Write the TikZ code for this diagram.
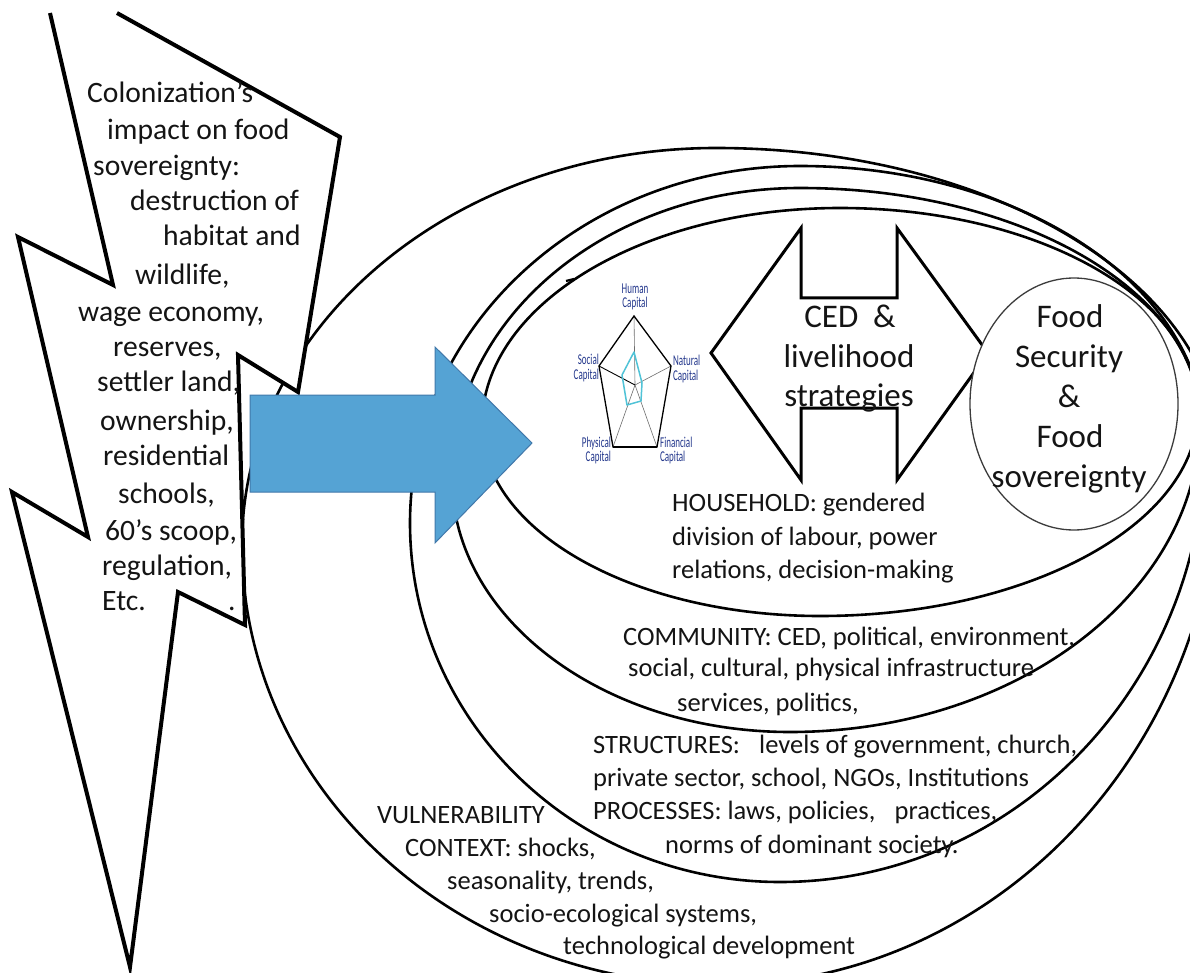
\documentclass[tikz,border=0pt]{standalone}
\usepackage{fontspec}
\setmainfont{Carlito}
\definecolor{txtcol}{RGB}{20,20,20}
\definecolor{arrowblue}{RGB}{85,163,212}
\definecolor{arrowedge}{RGB}{65,120,170}
\definecolor{navy}{RGB}{35,55,140}
\definecolor{cyanline}{RGB}{80,195,215}
\definecolor{circlecol}{RGB}{60,60,60}
\definecolor{spokecol}{RGB}{110,110,110}
% quarter-ellipse closed curve: #2,#3 left; #4,#5 top; #6,#7 right; #8,#9 bottom
\newcommand{\qell}[9][]{%
 \draw[#1] (#2,#3) .. controls (#2,{#3-0.5523*(#3-#5)}) and ({#4-0.5523*(#4-#2)},#5) .. (#4,#5)
 .. controls ({#4+0.5523*(#6-#4)},#5) and (#6,{#7-0.5523*(#7-#5)}) .. (#6,#7)
 .. controls (#6,{#7+0.5523*(#9-#7)}) and ({#8+0.5523*(#6-#8)},#9) .. (#8,#9)
 .. controls ({#8-0.5523*(#8-#2)},#9) and (#2,{#3+0.5523*(#9-#3)}) .. (#2,#3) -- cycle;}
\begin{document}
\begin{tikzpicture}[x=1pt,y=-1pt,
 ring/.style={line width=2.6pt, draw=black},
 boltline/.style={line width=4pt, line join=miter, draw=black},
 bt/.style={anchor=base west, inner sep=0pt, font=\fontsize{29.6}{35}\selectfont, text=txtcol},
 rt/.style={anchor=base west, inner sep=0pt, font=\fontsize{26.5}{32}\selectfont, text=txtcol},
 bigt/.style={anchor=base, inner sep=0pt, font=\fontsize{33}{40}\selectfont, text=txtcol},
 capl/.style={inner sep=0pt, font=\fontsize{15}{14}\selectfont, text=navy, xscale=0.6},
]
\useasboundingbox (0,0) rectangle (1190,973);
\fill[white] (0,0) rectangle (1190,973);

% nested context ellipses
\begin{scope}
\clip (0,0) rectangle (1190,973);
\qell[ring]{242}{545}{716}{148}{1220}{455}{720}{985}
\qell[ring]{410}{523}{800}{166}{1205}{440}{780}{882}
\qell[ring]{452}{478}{800}{188}{1200}{420}{790}{732}
\qell[ring]{482}{425}{840}{208}{1198}{410}{820}{616}
\draw[line width=2.2pt] (566,281) -- (574,279);
\end{scope}

% lightning bolt
\fill[white] (117,13) -- (340,137) -- (298,392) -- (238,355) -- (245,625) -- (178,592)
 -- (130,967) -- (12,492) -- (88,537) -- (18,237) -- (113,285) -- (50,13) -- cycle;
\draw[boltline] (117,13) -- (340,137) -- (298,392) -- (238,355) -- (245,625) -- (178,592)
 -- (130,967) -- (12,492) -- (88,537) -- (18,237) -- (113,285) -- (50,13);

% double arrow
\draw[line width=3pt, line join=miter, fill=white] (711,353) -- (801,228) -- (801,298) -- (897,298)
 -- (897,228) -- (988,353) -- (897,480) -- (897,408) -- (801,408) -- (801,480) -- cycle;

% food circle
\draw[line width=1.3pt, draw=circlecol, fill=white] (1074,404) ellipse [x radius=104pt, y radius=126pt];

% radar chart
\draw[spokecol, line width=0.6pt] (635,385) -- (634,316);
\draw[spokecol, line width=0.6pt] (635,385) -- (671,366);
\draw[spokecol, line width=0.6pt] (635,385) -- (613,447);
\draw[spokecol, line width=0.6pt] (635,385) -- (657,447);
\draw[black, line width=0.9pt] (635,385) -- (599,366);
\draw[black, line width=1.3pt, line join=miter] (634,316) -- (671,366) -- (657,447) -- (613,447) -- (599,366) -- cycle;
\draw[black, line width=2.2pt] (613,447) -- (657,447);
\draw[cyanline, line width=1.5pt, line join=round] (634,352) -- (642,383) -- (641,401) -- (627,405) -- (622,375) -- cycle;
\node[capl, align=center] (hc) at (635,297) {Human\\Capital};
\node[capl, align=right, anchor=east] (sc) at (599,368) {Social\\Capital};
\node[capl, align=left, anchor=west] (nc) at (673,369) {Natural\\Capital};
\node[capl, align=right, anchor=east] (pc) at (611,450) {Physical\\Capital};
\node[capl, align=left, anchor=west] (fc) at (660,450) {Financial\\Capital};

% CED text
\node[bigt] (ced1) at (850,327) {CED\hspace{0.45em}\&};
\node[bigt] (ced2) at (849,367) {livelihood};
\node[bigt] (ced3) at (849,406) {strategies};

% food text
\node[bigt] (fd1) at (1070,327) {Food};
\node[bigt] (fd2) at (1069,367) {Security};
\node[bigt] (fd3) at (1069,407) {\&};
\node[bigt] (fd4) at (1070,447) {Food};
\node[bigt] (fd5) at (1069,487) {sovereignty};

% ring texts
\node[rt] (hh1) at (672,511) {HOUSEHOLD: gendered};
\node[rt] (hh2) at (672,545) {division of labour, power};
\node[rt] (hh3) at (672,578) {relations, decision-making};
\node[rt] (cm1) at (623,645) {COMMUNITY: CED, political, environment,};
\node[rt] (cm2) at (628,676) {social, cultural, physical infrastructure};
\node[rt] (cm3) at (677,711) {services, politics,};
\node[rt] (st1) at (593,753) {STRUCTURES:\hspace{0.5em} levels of government, church,};
\node[rt] (st2) at (593,786) {private sector, school, NGOs, Institutions};
\node[rt] (st3) at (593,819) {PROCESSES: laws, policies,\hspace{0.5em} practices,};
\node[rt] (st4) at (665,853) {norms of dominant society.};
\node[rt] (vu1) at (377,823) {VULNERABILITY};
\node[rt] (vu2) at (405,856) {CONTEXT: shocks,};
\node[rt] (vu3) at (447,889) {seasonality, trends,};
\node[rt] (vu4) at (489,922) {socio-ecological systems,};
\node[rt] (vu5) at (563,954) {technological development};

% blue arrow
\draw[fill=arrowblue, draw=arrowedge, line width=1pt, line join=miter] (250,395) -- (435,395) -- (435,347)
 -- (532,443) -- (435,543) -- (435,492) -- (250,492) -- cycle;

% bolt text
\node[bt] (b1) at (87,103) {Colonization’s};
\node[bt] (b2) at (107,140) {impact on food};
\node[bt] (b3) at (93,176) {sovereignty:};
\node[bt] (b4) at (130,211) {destruction of};
\node[bt] (b5) at (163,246) {habitat and};
\node[bt] (b6) at (135,285) {wildlife,};
\node[bt] (b7) at (78,321) {wage economy,};
\node[bt] (b8) at (113,356) {reserves,};
\node[bt] (b9) at (97,391) {settler land,};
\node[bt] (b10) at (100,430) {ownership,};
\node[bt] (b11) at (103,465) {residential};
\node[bt] (b12) at (118,503) {schools,};
\node[bt] (b13) at (105,540) {60’s scoop,};
\node[bt] (b14) at (102,575) {regulation,};
\node[bt] (b15) at (102,610) {Etc.};
\node[bt] (b16) at (228,610) {.};
\end{tikzpicture}
\end{document}
